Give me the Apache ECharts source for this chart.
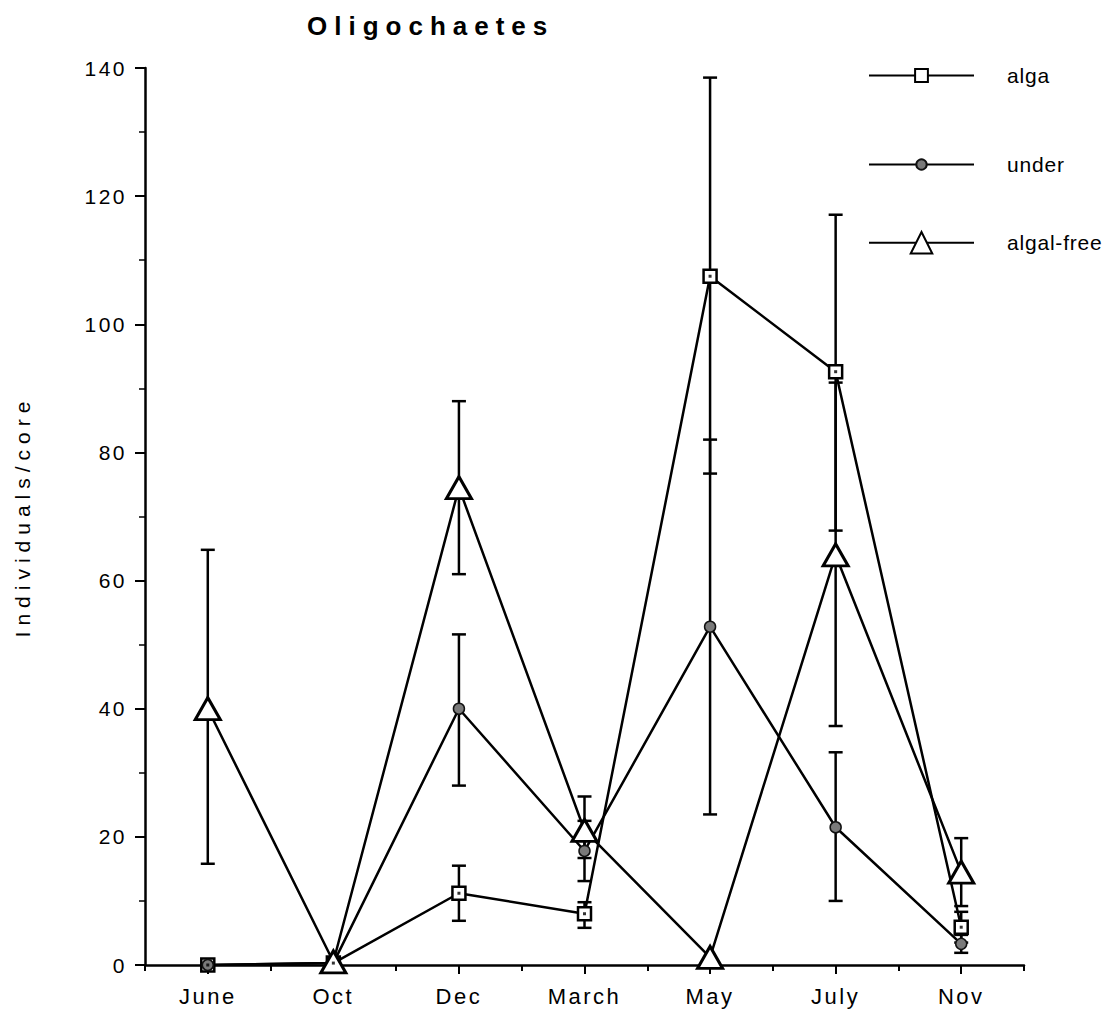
<!DOCTYPE html>
<html>
<head>
<meta charset="utf-8">
<script src="https://cdn.jsdelivr.net/npm/echarts@6/dist/echarts.min.js"></script>
<style>
html,body{margin:0;padding:0;background:#fff;}
#chart{width:1119px;height:1017px;}
</style>
</head>
<body>
<div id="chart"></div>
<script>
// ---- data ----
const categories = ['June', 'Oct', 'Dec', 'March', 'May', 'July', 'Nov'];
const yTicks = [0, 20, 40, 60, 80, 100, 120, 140];

const alga      = [0, 0.3, 11.2, 8.0, 107.5, 92.6, 5.9];
const algaHigh  = [null, null, 15.5, 9.8, 138.5, 117.1, 8.3];
const algaLow   = [null, null, 6.9, 5.8, 76.7, 67.8, 3.5];

const under     = [0, 0.3, 40.0, 17.8, 52.8, 21.5, 3.3];
const underHigh = [null, null, 51.6, 22.5, 82.0, 33.2, 4.7];
const underLow  = [null, null, 28.0, 13.1, 23.5, 10.0, 1.9];

const algalFree     = [40.0, 0.5, 74.5, 21.0, 1.2, 64.0, 14.5];
const algalFreeHigh = [64.8, null, 88.0, 26.3, null, 90.9, 19.8];
const algalFreeLow  = [15.8, null, 61.0, 16.7, null, 37.3, 9.2];

const seriesNames = ['alga', 'under', 'algal-free'];
const titleText = 'Oligochaetes';
const yAxisTitle = 'Individuals/core';

// ---- build ----
const FONT = '"Liberation Sans", Arial, Helvetica, sans-serif';
const LW = 2.5;

function errData(lo, hi) {
  const out = [];
  for (let i = 0; i < categories.length; i++) {
    if (lo[i] != null && hi[i] != null) out.push([i, lo[i], hi[i]]);
  }
  return out;
}
function errSeries(lo, hi) {
  return {
    type: 'custom',
    xAxisIndex: 0,
    yAxisIndex: 0,
    z: 2,
    silent: true,
    encode: { x: 0, y: [1, 2] },
    data: errData(lo, hi),
    renderItem: function (params, api) {
      const x = api.value(0);
      const pLo = api.coord([x, api.value(1)]);
      const pHi = api.coord([x, api.value(2)]);
      const w = 7;
      const st = { stroke: '#000', lineWidth: LW };
      return {
        type: 'group',
        children: [
          { type: 'line', shape: { x1: pHi[0], y1: pHi[1], x2: pLo[0], y2: pLo[1] }, style: st },
          { type: 'line', shape: { x1: pHi[0] - w, y1: pHi[1], x2: pHi[0] + w, y2: pHi[1] }, style: st },
          { type: 'line', shape: { x1: pLo[0] - w, y1: pLo[1], x2: pLo[0] + w, y2: pLo[1] }, style: st }
        ]
      };
    }
  };
}

const legendText = { fontFamily: FONT, fontSize: 21, color: '#000', padding: [0, 0, 0, 28] };

const option = {
  animation: false,
  backgroundColor: '#fff',
  textStyle: { fontFamily: FONT },
  title: {
    text: titleText,
    left: 307,
    top: 13,
    padding: 0,
    textStyle: { fontFamily: FONT, fontSize: 26, fontWeight: 'bold', color: '#000' }
  },
  legend: [
    { data: [seriesNames[0]], left: 868, top: 65, padding: 0, itemWidth: 105, itemHeight: 16, textStyle: legendText, selectedMode: false },
    { data: [seriesNames[1]], left: 868, top: 154, padding: 0, itemWidth: 105, itemHeight: 13, textStyle: legendText, selectedMode: false },
    { data: [seriesNames[2]], left: 868, top: 231, padding: 0, itemWidth: 105, itemHeight: 27, textStyle: legendText, selectedMode: false }
  ],
  grid: { left: 145, right: 95, top: 68, bottom: 52, containLabel: false },
  xAxis: [
    {
      type: 'category',
      data: categories,
      boundaryGap: true,
      axisLine: { lineStyle: { color: '#000', width: LW } },
      axisTick: { show: true, alignWithLabel: false, length: 6, lineStyle: { color: '#000', width: 2 } },
      axisLabel: { color: '#000', fontSize: 22, fontFamily: FONT, margin: 20 },
      splitLine: { show: false }
    },
    {
      type: 'category',
      data: categories,
      position: 'bottom',
      boundaryGap: true,
      axisLine: { show: false },
      axisTick: { show: true, alignWithLabel: true, length: 9, lineStyle: { color: '#000', width: 2 } },
      axisLabel: { show: false },
      splitLine: { show: false }
    }
  ],
  yAxis: {
    type: 'value',
    min: yTicks[0],
    max: yTicks[yTicks.length - 1],
    interval: yTicks[1] - yTicks[0],
    name: yAxisTitle,
    nameLocation: 'middle',
    nameGap: 112,
    nameTextStyle: { fontFamily: FONT, fontSize: 21, color: '#000' },
    axisLine: { show: true, lineStyle: { color: '#000', width: LW } },
    axisTick: { show: true, length: 10, lineStyle: { color: '#000', width: 2 } },
    minorTick: { show: true, splitNumber: 2, length: 6, lineStyle: { color: '#000', width: 1.5 } },
    axisLabel: { color: '#000', fontSize: 21, fontFamily: FONT, margin: 18 },
    splitLine: { show: false }
  },
  series: [
    errSeries(algaLow, algaHigh),
    errSeries(underLow, underHigh),
    errSeries(algalFreeLow, algalFreeHigh),
    {
      name: seriesNames[0],
      type: 'line',
      data: alga,
      z: 3,
      symbol: 'rect',
      symbolSize: 13,
      showAllSymbol: true,
      lineStyle: { color: '#000', width: LW },
      itemStyle: { color: '#fff', borderColor: '#000', borderWidth: 2.5 }
    },
    {
      name: seriesNames[0] + '-dot',
      type: 'scatter',
      data: alga,
      z: 6,
      silent: true,
      symbol: 'rect',
      symbolSize: 3,
      itemStyle: { color: '#000' }
    },
    {
      name: seriesNames[1],
      type: 'line',
      data: under,
      z: 3,
      symbol: 'circle',
      symbolSize: 11,
      showAllSymbol: true,
      lineStyle: { color: '#000', width: LW },
      itemStyle: { color: '#7a7a7a', borderColor: '#111', borderWidth: 1.5 }
    },
    {
      name: seriesNames[2],
      type: 'line',
      data: algalFree,
      z: 4,
      symbol: 'triangle',
      symbolSize: [25, 22],
      showAllSymbol: true,
      lineStyle: { color: '#000', width: LW },
      itemStyle: { color: '#fff', borderColor: '#000', borderWidth: 3 }
    }
  ]
};

const chart = echarts.init(document.getElementById('chart'), null, { renderer: 'svg' });
chart.setOption(option);

// letter spacing of the original typesetting
function applySpacing() {
  const texts = document.querySelectorAll('#chart svg text');
  texts.forEach(function (t) {
    const s = t.textContent;
    let sp = null;
    if (s === titleText) sp = 7;
    else if (s === yAxisTitle) sp = 6;
    else if (categories.indexOf(s) >= 0) sp = 2.5;
    else if (yTicks.map(String).indexOf(s) >= 0) sp = 2.5;
    else if (seriesNames.indexOf(s) >= 0) sp = 0.8;
    if (sp != null) t.setAttribute('letter-spacing', sp + 'px');
  });
}
chart.on('finished', applySpacing);
setTimeout(applySpacing, 50);
setTimeout(applySpacing, 300);
</script>
</body>
</html>
